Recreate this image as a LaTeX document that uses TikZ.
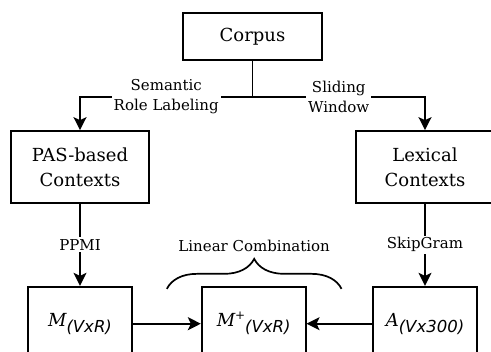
\documentclass[tikz,border=0pt]{standalone}
\usepackage{fontspec}
\setmainfont{DejaVu Serif}
\newfontfamily\subfont{DejaVu Sans}
\usetikzlibrary{positioning, arrows.meta, calc, decorations.pathreplacing}

\newcommand{\lowidx}[1]{\raisebox{-6pt}{\subfont\itshape\fontsize{16.5}{18}\selectfont #1}}
\newcommand{\highidx}[1]{\raisebox{7pt}{\fontsize{12}{14}\selectfont #1}}

\begin{document}
\begin{tikzpicture}[
    x=1pt, y=-1pt,
    box/.style={rectangle, draw, line width=1.7pt, align=center,
                font=\fontsize{18}{25}\selectfont, inner sep=2pt},
    ctx/.style={box, minimum width=138pt, minimum height=72pt},
    mat/.style={box, minimum width=104pt, minimum height=74pt},
    lbl/.style={fill=white, inner sep=2pt, align=center,
                font=\fontsize{15}{20}\selectfont},
    arr/.style={-{Stealth[length=13pt, width=13pt, inset=3pt]}, line width=1.7pt},
]
\useasboundingbox (0,0) rectangle (491,352);

% Source
\node[box, minimum width=139pt, minimum height=47pt] (corpus) at (252.5,36.5) {Corpus};

% Contexts
\node[ctx] (pas) at (80,167) {PAS-based\\Contexts};
\node[ctx] (lex) at (425,167) {Lexical\\Contexts};

% Matrices
\node[mat, below=82pt of pas] (m) {{\itshape M}\lowidx{(VxR)}};
\node[mat, right=68pt of m] (mplus) {{\itshape M}\highidx{+}\lowidx{(VxR)}};
\node[mat, below=82pt of lex] (a) {{\itshape A}\lowidx{(Vx300)}};

% Split
\coordinate (split) at (252.5,97);
\draw[line width=1.7pt] (corpus) -- (split);
\draw[arr] (split) -| node[lbl, pos=0.25] {Semantic\\Role Labeling} (pas);
\draw[arr] (split) -| node[lbl, pos=0.25] {Sliding\\Window} (lex);

% Down arrows
\draw[arr] (pas) -- node[lbl] {PPMI} (m);
\draw[arr] (lex) -- node[lbl] {SkipGram} (a);

% Combination
\draw[arr] (m) -- (mplus);
\draw[arr] (a) -- (mplus);
\coordinate (bl) at ($(mplus.north west)+(-34,3)$);
\coordinate (br) at ($(mplus.north east)+(35,3)$);
\draw[line width=1.7pt, decorate, decoration={brace, amplitude=30pt}]
    (bl) -- node[lbl, fill=none, above=34pt] {Linear Combination} (br);

\end{tikzpicture}
\end{document}
